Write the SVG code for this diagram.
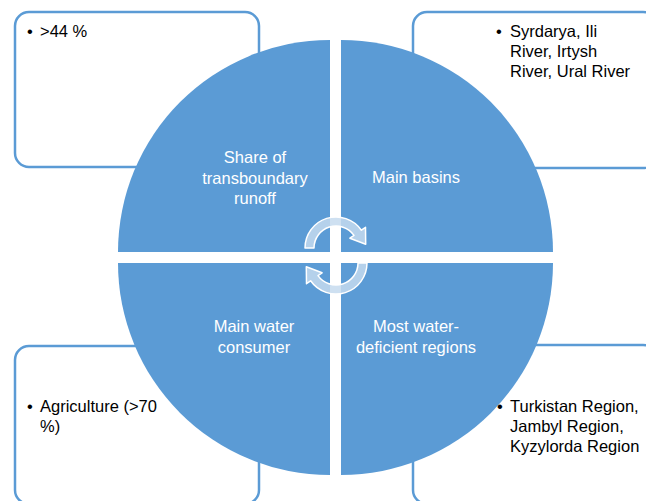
<svg xmlns="http://www.w3.org/2000/svg" width="646" height="501" viewBox="0 0 646 501">
  <style>
    .box { fill: #ffffff; stroke: #5B9BD5; stroke-width: 2.5; }
    .quad { fill: #5B9BD5; }
    .lbl { font-family: "Liberation Sans", Arial, sans-serif; font-size: 16.5px; fill: #ffffff; text-anchor: middle; }
    .txt { font-family: "Liberation Sans", Arial, sans-serif; font-size: 16.5px; fill: #000000; }
    .cyc { fill: #C6DAEF; fill-opacity: 0.85; stroke: #ffffff; stroke-width: 1.5; stroke-linejoin: round; }
  </style>

  <!-- detail boxes behind the wheel -->
  <g id="box-runoff"><rect class="box" x="15" y="12" width="244" height="155" rx="14"/></g>
  <g id="box-basins"><rect class="box" x="413" y="12" width="244" height="156" rx="14"/></g>
  <g id="box-consumer"><rect class="box" x="15" y="346" width="244" height="158" rx="14"/></g>
  <g id="box-deficient"><rect class="box" x="413" y="345" width="244" height="159" rx="14"/></g>

  <!-- wheel quadrants -->
  <g id="quad-runoff">
    <path class="quad" d="M330 252 L118 252 A212 212 0 0 1 330 40 Z"/>
    <text class="lbl" x="255" y="163">Share of</text>
    <text class="lbl" x="255" y="184">transboundary</text>
    <text class="lbl" x="255" y="204">runoff</text>
  </g>
  <g id="quad-basins">
    <path class="quad" d="M341 252 L341 40 A212 212 0 0 1 553 252 Z"/>
    <text class="lbl" x="416" y="183">Main basins</text>
  </g>
  <g id="quad-deficient">
    <path class="quad" d="M341 263 L553 263 A212 212 0 0 1 341 475 Z"/>
    <text class="lbl" x="416" y="332">Most water-</text>
    <text class="lbl" x="416" y="353">deficient regions</text>
  </g>
  <g id="quad-consumer">
    <path class="quad" d="M330 263 L330 475 A212 212 0 0 1 118 263 Z"/>
    <text class="lbl" x="254" y="332">Main water</text>
    <text class="lbl" x="254" y="353">consumer</text>
  </g>

  <!-- box contents -->
  <g id="txt-runoff">
    <text class="txt" x="27" y="37">•</text>
    <text class="txt" x="40" y="37">&gt;44 %</text>
  </g>
  <g id="txt-basins">
    <text class="txt" x="496" y="37">•</text>
    <text class="txt" x="510" y="37">Syrdarya, Ili</text>
    <text class="txt" x="510" y="57">River, Irtysh</text>
    <text class="txt" x="510" y="77">River, Ural River</text>
  </g>
  <g id="txt-consumer">
    <text class="txt" x="27" y="412">•</text>
    <text class="txt" x="40" y="412">Agriculture (&gt;70</text>
    <text class="txt" x="40" y="432">%)</text>
  </g>
  <g id="txt-deficient">
    <text class="txt" x="497" y="412">•</text>
    <text class="txt" x="510" y="412">Turkistan Region,</text>
    <text class="txt" x="510" y="432">Jambyl Region,</text>
    <text class="txt" x="510" y="452">Kyzylorda Region</text>
  </g>

  <!-- circular arrows in the centre -->
  <g id="connectors">
    <path id="cycle-arrow" class="cyc" d="M305 248 A31 31 0 0 1 361.4 230.2 L365.5 227.3 L365.7 244.3 L349.9 238.2 L354 235.4 A22 22 0 0 0 314 248 Z"/>
    <path class="cyc" transform="rotate(180 336 255.5)" d="M305 248 A31 31 0 0 1 361.4 230.2 L365.5 227.3 L365.7 244.3 L349.9 238.2 L354 235.4 A22 22 0 0 0 314 248 Z"/>
  </g>
</svg>
